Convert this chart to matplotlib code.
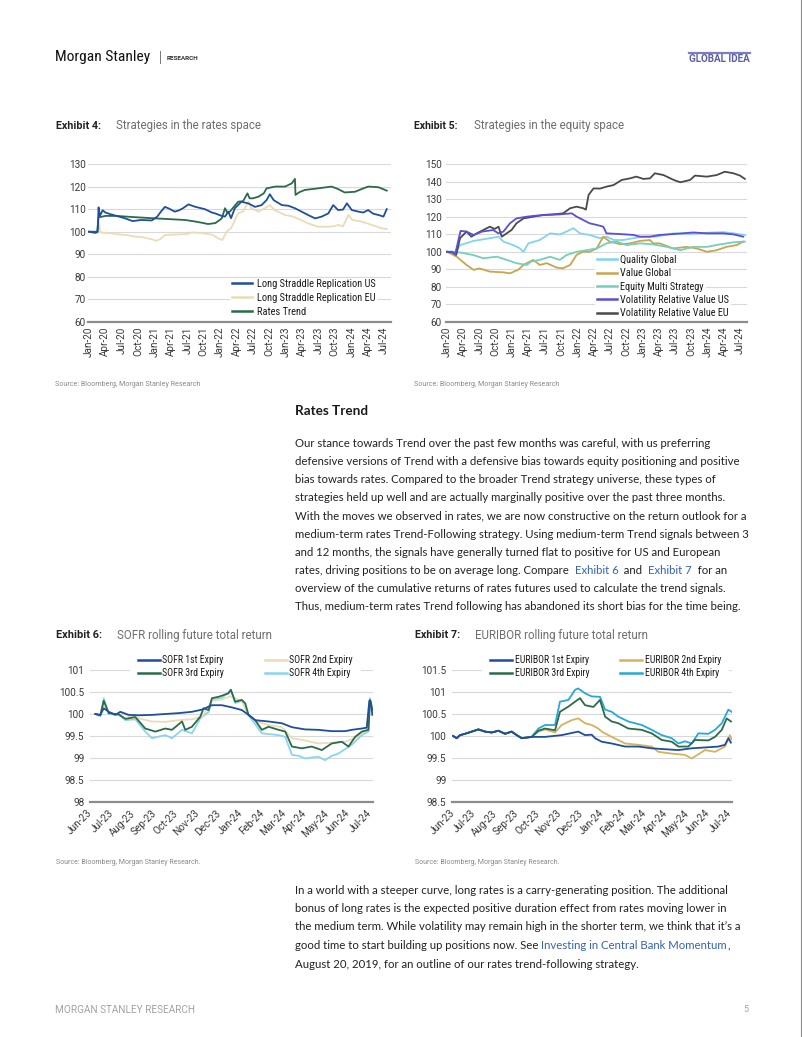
import matplotlib
matplotlib.use("Agg")
import matplotlib.pyplot as plt
from matplotlib import font_manager as fm
from matplotlib.lines import Line2D
from matplotlib.patches import Rectangle
from matplotlib.transforms import IdentityTransform

# ======================= DATA =======================
# Exhibit 4 / 5 : x = months since Jan-2020
q_labels = ['Jan-20', 'Apr-20', 'Jul-20', 'Oct-20', 'Jan-21', 'Apr-21', 'Jul-21', 'Oct-21',
            'Jan-22', 'Apr-22', 'Jul-22', 'Oct-22', 'Jan-23', 'Apr-23', 'Jul-23', 'Oct-23',
            'Jan-24', 'Apr-24', 'Jul-24']
q_pos = [0, 3, 6, 9, 12, 15, 18, 21, 24, 27, 30, 33, 36, 39, 42, 45, 48, 51, 54]

lsr_us_m = [0, 1.2, 1.6, 1.75, 2.0, 2.5, 3.0, 4.0, 5.5, 6.5, 8.0, 9.5, 11.5, 12.5, 13.2, 13.9, 14.6,
            15.7, 16.5, 17.2, 18.2, 19.5, 21.2, 22.5, 23.1, 24.3, 24.9, 25.5, 26.0, 26.7, 27.9, 29.2,
            30.4, 31.6, 32.5, 33.1, 33.8, 35.3, 36.5, 37.7, 38.9, 40.1, 41.4, 42.6, 43.8, 44.7, 45.6,
            46.5, 47.2, 48.1, 49.3, 50.2, 51.1, 52.0, 53.0, 53.9, 54.5]
lsr_us_v = [100, 99.5, 100, 110.8, 107, 109.5, 108.5, 107.7, 106.7, 106, 104.7, 105.2, 105, 106.7,
            109, 111, 110.3, 108.9, 109.5, 110.4, 112.1, 111, 110, 108.5, 108.1, 107, 106.7, 108.9,
            106, 110.4, 113.3, 112.5, 111, 111.8, 114, 116.6, 114, 111.8, 111.5, 110.4, 108.9, 107.4,
            105.9, 106.7, 108.1, 111.8, 109.6, 109.8, 112.6, 109.6, 108.9, 108.5, 109.6, 108, 107.4,
            106.7, 110]
lsr_eu_m = [0, 1.5, 1.8, 2.1, 2.5, 4.0, 5.5, 7.0, 8.5, 10.0, 11.5, 12.4, 13.2, 13.9, 15.0, 16.5,
            18.0, 18.8, 20.0, 21.0, 22.5, 23.7, 24.4, 25.2, 26.0, 27.3, 28.2, 29.2, 29.7, 31.0, 32.2,
            33.1, 34.0, 35.9, 37.4, 38.5, 40.1, 41.9, 43.8, 45.0, 45.6, 46.5, 47.5, 48.2, 50.0, 51.8,
            53.6, 54.5]
lsr_eu_v = [100, 99.5, 104, 100, 99.5, 99.3, 98.8, 98.5, 97.8, 97.5, 96.6, 96, 97, 98.5, 98.7, 98.8,
            99, 99.7, 99.5, 99.3, 98.7, 97, 96.3, 100, 101.5, 108.1, 109, 113.3, 110.4, 108.9, 110.4,
            111.8, 109.5, 107.4, 106.7, 105.5, 103.7, 102.2, 102.2, 102.5, 103, 102.4, 107.4, 105.2,
            104.4, 103, 101.5, 101.2]
rates_trend_m = [0, 1.5, 1.75, 2.1, 3.0, 5.0, 8.0, 11.5, 14.5, 17.6, 19.5, 20.6, 21.8, 23.1, 23.7,
                 24.3, 24.9, 25.3, 25.8, 26.3, 27.3, 28.2, 29.0, 29.4, 30.0, 31.0, 32.0, 32.5, 34.1,
                 35.9, 37.1, 37.7, 37.8, 38.5, 39.5, 41.9, 44.4, 45.5, 46.8, 48.7, 50.0, 51.1, 53.0, 54.5]
rates_trend_v = [100, 100, 106.5, 106.5, 107, 107, 106.5, 106, 105.6, 105.2, 104.5, 104, 103.4, 103.8,
                 104.8, 105.9, 110.4, 108.5, 108.9, 110.4, 113.3, 113.5, 117, 114.8, 114.8, 115.5, 117,
                 119.2, 120, 120, 121.4, 123.4, 116.3, 117.5, 118.5, 119.2, 120, 119, 117.4, 117.7,
                 119, 120, 119.7, 118.2]

vrv_eu_m = [0, 1.0, 1.7, 2.4, 3.0, 3.6, 4.5, 5.5, 6.7, 7.9, 8.8, 9.5, 10.1, 11.0, 11.9, 12.8, 14.1,
            15.9, 17.8, 19.6, 21.4, 22.7, 23.9, 25.1, 25.6, 26.1, 27.0, 28.2, 29.4, 30.7, 32.2, 33.7,
            34.9, 36.2, 37.4, 38.3, 39.9, 41.8, 43.0, 44.8, 45.7, 47.9, 49.7, 51.2, 52.8, 54.0, 54.9]
vrv_eu_v = [100, 99.6, 98.2, 107.7, 109.6, 111.5, 108.6, 110.5, 112.4, 114.3, 113, 114.3, 108.6,
            110.5, 112.4, 116.2, 119, 120, 121, 121.3, 121.9, 124.8, 125.7, 124.8, 124, 132.4, 136.1,
            136, 137.1, 138, 140.9, 141.8, 142.8, 141.5, 141.8, 144.7, 143.7, 140.9, 139.6, 140.9,
            143.4, 142.8, 143.7, 145.6, 144.7, 143.4, 141.5]
vrv_us_m = [0, 1.0, 1.5, 2.5, 3.6, 4.9, 6.5, 8.5, 9.5, 10.4, 11.6, 12.8, 14.7, 16.5, 18.4, 20.8, 23.0,
            23.9, 25.1, 26.3, 27.6, 28.8, 29.4, 31.9, 34.3, 35.6, 37.4, 39.2, 41.7, 45.4, 47.9, 50.9,
            52.8, 54.6]
vrv_us_v = [100, 100, 98.5, 111.9, 111.5, 109.6, 111.5, 112.4, 110.5, 111.5, 116.2, 119, 120, 120.6,
            121, 121.3, 121.9, 120, 118.1, 116.2, 115.3, 114.3, 110.5, 110.1, 109.6, 108.6, 108.6,
            109.6, 110.1, 111, 110.5, 110.5, 109.9, 108.6]
quality_m = [0, 1.7, 2.4, 4.9, 7.9, 9.5, 10.4, 12.2, 13.4, 14.1, 15.0, 17.1, 19.0, 20.8, 22.0, 23.3,
             24.5, 26.3, 28.2, 29.4, 30.7, 32.5, 34.3, 36.2, 38.6, 41.7, 44.2, 46.6, 48.5, 50.9, 52.8, 54.9]
quality_v = [100, 100, 103.8, 106.2, 107.7, 108.6, 105.8, 103.8, 102, 100, 104.8, 106.7, 110.5,
             109.9, 111.5, 113.4, 110.5, 109.6, 107.7, 108.6, 106.7, 106.7, 107.7, 108.6, 108.6,
             110.5, 110.2, 110.5, 110.9, 111.2, 110.5, 109.6]
value_m = [0, 1.8, 3.6, 4.9, 6.0, 7.9, 10.4, 11.6, 13.1, 14.1, 15.9, 17.1, 18.4, 20.2, 21.4, 22.7,
           23.9, 25.1, 26.3, 27.6, 28.8, 30.0, 31.9, 33.7, 35.6, 37.4, 38.0, 39.2, 41.7, 44.2, 46.0,
           47.9, 49.7, 51.5, 53.4, 54.6]
value_v = [100, 97.2, 92.5, 89.7, 90.5, 88.7, 88.3, 87.7, 89.7, 92.5, 95.4, 92.5, 93.5, 91, 90.6,
           92.5, 98.3, 100, 100, 101.9, 108.6, 105.8, 104.3, 104.8, 106.2, 106.7, 104.8, 104.8,
           101.9, 102.8, 101.9, 100, 100.9, 102.8, 103.8, 105.8]
eq_multi_m = [0, 2.4, 4.9, 6.7, 9.2, 11.0, 12.8, 14.7, 15.5, 17.1, 19.0, 20.8, 22.0, 23.9, 25.7,
              27.6, 29.4, 31.3, 33.1, 35.6, 38.0, 40.5, 43.0, 45.4, 47.9, 50.3, 52.8, 54.9]
eq_multi_v = [100, 99.6, 98.1, 96.3, 97.2, 95.4, 93.5, 92.5, 94.4, 95.4, 97.2, 95.4, 98.1, 100,
              100.9, 101.9, 104.8, 105.8, 103.8, 104.8, 104.2, 102.8, 100.9, 102.8, 102.8, 104.2,
              105.4, 105.8]

# Exhibit 6 / 7 : x = months since Jun-2023
m_labels = ['Jun-23', 'Jul-23', 'Aug-23', 'Sep-23', 'Oct-23', 'Nov-23', 'Dec-23', 'Jan-24',
            'Feb-24', 'Mar-24', 'Apr-24', 'May-24', 'Jun-24', 'Jul-24']

sofr1_m = [0.23, 0.46, 0.62, 0.85, 1.16, 1.39, 1.78, 2.24, 2.86, 3.48, 4.1, 4.72, 5.19, 5.65, 6.11,
           6.58, 7.04, 7.35, 7.66, 8.28, 8.9, 9.37, 9.98, 10.6, 11.22, 11.84, 12.15, 12.62, 12.85,
           12.97, 13.03, 13.11]
sofr1_v = [100, 99.98, 100.13, 100.05, 99.98, 100.05, 99.98, 99.97, 99.98, 100, 100.02, 100.05,
           100.1, 100.2, 100.2, 100.15, 100.09, 99.98, 99.86, 99.83, 99.79, 99.7, 99.65, 99.64,
           99.61, 99.61, 99.64, 99.67, 99.69, 100.3, 100.28, 99.98]
sofr2_m = [0.23, 0.46, 0.62, 0.85, 1.16, 1.39, 1.78, 2.24, 2.86, 3.48, 4.1, 4.72, 5.19, 5.4, 5.65,
           6.11, 6.5, 7.04, 7.35, 7.66, 8.28, 8.9, 9.37, 9.98, 10.6, 11.22, 11.84, 12.3, 12.62,
           12.85, 12.97, 13.03, 13.11]
sofr2_v = [100, 99.97, 100.25, 100.02, 99.97, 100.04, 99.95, 99.9, 99.83, 99.82, 99.86, 99.88,
           99.94, 100.1, 100.3, 100.33, 100.4, 100.3, 99.98, 99.84, 99.75, 99.7, 99.45, 99.4, 99.33,
           99.35, 99.37, 99.45, 99.56, 99.63, 100.3, 100.28, 100.15]
sofr3_m = [0.23, 0.46, 0.62, 0.85, 1.32, 1.63, 2.09, 2.55, 3.02, 3.48, 3.79, 4.26, 4.41, 4.72, 5.11,
           5.26, 5.5, 5.65, 5.96, 6.42, 6.53, 6.73, 7.04, 7.2, 7.35, 7.66, 7.97, 8.28, 8.75, 9.06,
           9.37, 9.83, 10.29, 10.76, 11.22, 11.69, 12.0, 12.31, 12.62, 12.93, 13.0, 13.11]
sofr3_v = [100, 99.97, 100.3, 100.02, 99.99, 99.89, 99.93, 99.67, 99.6, 99.67, 99.64, 99.83, 99.64,
           99.71, 99.94, 100.13, 100.09, 100.36, 100.39, 100.47, 100.55, 100.28, 100.32, 100.24,
           99.98, 99.86, 99.64, 99.71, 99.64, 99.6, 99.26, 99.22, 99.26, 99.18, 99.33, 99.37, 99.26,
           99.48, 99.6, 99.64, 100.32, 100.09]
sofr4_m = [0.23, 0.46, 0.62, 0.85, 1.32, 1.63, 2.09, 2.55, 2.86, 3.48, 3.79, 4.26, 4.72, 5.11, 5.5,
           5.65, 6.11, 6.53, 6.73, 7.04, 7.35, 7.97, 8.75, 9.06, 9.37, 9.68, 9.98, 10.6, 10.91,
           11.22, 11.53, 12.15, 12.62, 12.93, 13.0, 13.11]
sofr4_v = [100, 99.95, 100.36, 100.0, 99.98, 99.86, 99.88, 99.6, 99.45, 99.52, 99.45, 99.64, 99.56,
           99.9, 100.05, 100.32, 100.36, 100.55, 100.25, 100.3, 99.98, 99.56, 99.52, 99.48, 99.07,
           99.05, 98.99, 99.03, 98.95, 99.05, 99.1, 99.3, 99.52, 99.6, 100.36, 100.15]

eur_early_m = [0.0, 0.17, 0.33, 0.56, 0.88, 1.19, 1.5, 1.82, 2.13, 2.44, 2.75, 2.99, 3.22, 3.54, 3.69]
eur_early_v = [100.0, 99.95, 100.02, 100.05, 100.1, 100.15, 100.1, 100.08, 100.12, 100.05, 100.1,
               100.02, 99.95, 99.97, 99.98]
eur1_m = eur_early_m + [4.32, 5.1, 5.88, 6.2, 6.51, 6.67, 6.98, 7.45, 8.08, 8.7, 9.33, 9.95, 10.58,
                        11.2, 11.83, 12.46, 12.77, 12.93, 13.05]
eur1_v = eur_early_v + [99.98, 100.02, 100.1, 100.02, 100.03, 99.95, 99.87, 99.83, 99.76, 99.76,
                        99.72, 99.7, 99.68, 99.72, 99.74, 99.76, 99.8, 99.95, 99.85]
eur2_m = eur_early_m + [4.01, 4.32, 4.79, 5.1, 5.57, 5.88, 6.2, 6.51, 6.82, 6.98, 7.45, 8.08, 8.7,
                        9.33, 9.64, 10.27, 10.89, 11.21, 11.83, 12.3, 12.77, 13.0, 13.08]
eur2_v = eur_early_v + [100.1, 100.15, 100.08, 100.25, 100.36, 100.4, 100.29, 100.25, 100.17, 100.1,
                        99.98, 99.83, 99.8, 99.76, 99.64, 99.6, 99.57, 99.49, 99.68, 99.64, 99.76,
                        100.02, 99.92]
eur3_m = eur_early_m + [4.01, 4.32, 4.79, 5.02, 5.42, 5.73, 5.96, 6.2, 6.59, 6.9, 7.14, 7.45, 7.76,
                        8.23, 8.86, 9.33, 9.8, 10.27, 10.58, 11.05, 11.36, 11.99, 12.3, 12.62,
                        12.85, 13.05]
eur3_v = eur_early_v + [100.12, 100.17, 100.13, 100.55, 100.67, 100.78, 100.86, 100.7, 100.66,
                        100.82, 100.44, 100.33, 100.29, 100.17, 100.14, 100.06, 99.91, 99.87, 99.76,
                        99.76, 99.91, 99.9, 99.98, 100.14, 100.4, 100.33]
eur4_m = eur_early_m + [4.01, 4.32, 4.79, 5.02, 5.42, 5.73, 5.88, 6.2, 6.51, 6.9, 7.14, 7.45, 7.76,
                        8.23, 8.86, 9.33, 9.8, 10.27, 10.58, 10.89, 11.21, 11.52, 11.99, 12.3,
                        12.62, 12.93, 13.08]
eur4_v = eur_early_v + [100.17, 100.25, 100.25, 100.78, 100.82, 101.05, 101.08, 100.97, 100.9,
                        100.89, 100.6, 100.55, 100.44, 100.33, 100.25, 100.14, 100.02, 99.95, 99.83,
                        99.88, 99.83, 100.06, 100.05, 100.14, 100.29, 100.6, 100.55]

para1 = [
    [("Our stance towards Trend over the past few months was careful, with us preferring", 0)],
    [("defensive versions of Trend with a defensive bias towards equity positioning and positive", 0)],
    [("bias towards rates. Compared to the broader Trend strategy universe, these types of", 0)],
    [("strategies held up well and are actually marginally positive over the past three months.", 0)],
    [("With the moves we observed in rates, we are now constructive on the return outlook for a", 0)],
    [("medium-term rates Trend-Following strategy. Using medium-term Trend signals between 3", 0)],
    [("and 12 months, the signals have generally turned flat to positive for US and European", 0)],
    [("rates, driving positions to be on average long. Compare  ", 0), ("Exhibit 6", 1),
     ("  and  ", 0), ("Exhibit 7", 1), ("  for an", 0)],
    [("overview of the cumulative returns of rates futures used to calculate the trend signals.", 0)],
    [("Thus, medium-term rates Trend following has abandoned its short bias for the time being.", 0)],
]
para2 = [
    [("In a world with a steeper curve, long rates is a carry-generating position. The additional", 0)],
    [("bonus of long rates is the expected positive duration effect from rates moving lower in", 0)],
    [("the medium term. While volatility may remain high in the shorter term, we think that it\u2019s a", 0)],
    [("good time to start building up positions now. See ", 0),
     ("Investing in Central Bank Momentum", 1), (",", 0)],
    [("August 20, 2019, for an outline of our rates trend-following strategy.", 0)],
]

# ======================= FIGURE =======================
W, H = 802, 1037
fig = plt.figure(figsize=(W / 100, H / 100), dpi=100)
fig.patch.set_facecolor('white')
R = fig.canvas.get_renderer()

_avail = {f.name for f in fm.fontManager.ttflist}
_narrow = None
for _nm in ['Roboto Condensed', 'Liberation Sans Narrow', 'Arial Narrow', 'Open Sans Condensed',
            'Noto Sans Condensed', 'DejaVu Sans Condensed']:
    if _nm in _avail:
        _narrow = _nm
        break
CH = ['Roboto', 'DejaVu Sans']
if _narrow:
    NARROW = [_narrow, 'Roboto', 'DejaVu Sans']
    WSCALE = 1.0
else:
    NARROW = ['Roboto', 'DejaVu Sans']
    WSCALE = 1.08
BODY = ['Lato', 'DejaVu Sans']


def fx(x):
    return x / W


def fy(y):
    return 1 - y / H


def measure(s, size, **kw):
    t = fig.text(0, 0, s, fontsize=size, **kw)
    bb = t.get_window_extent(R)
    t.remove()
    return bb.width, bb.height


def fit(s, target, **kw):
    return 10 * target / measure(s, 10, **kw)[0]


def put(x, y, s, width, **kw):
    size = fit(s, width, **kw)
    fig.text(fx(x), fy(y), s, fontsize=size, ha='left', va='center', **kw)
    return size


def adv(s, size, **kw):
    return measure(s + '|', size, **kw)[0] - measure('|', size, **kw)[0]


# ---------------- header / footer ----------------
put(55, 57, "Morgan Stanley", 95, family=NARROW, color='#111111')
fig.add_artist(Line2D([fx(159.5)] * 2, [fy(51), fy(63)], color='#777777', lw=0.7))
put(167, 58, "RESEARCH", 32, family=CH, weight='bold', color='#333333')
put(689, 59, "GLOBAL IDEA", 61, family=CH, weight='bold', color='#5b5fa6')
fig.add_artist(Line2D([fx(689), fx(750)], [fy(52.5)] * 2, color='#7b7ec6', lw=1.6))
fig.add_artist(Line2D([fx(800.5)] * 2, [0, 1], color='#8a8a8a', lw=0.8))
put(55, 1010, "MORGAN STANLEY RESEARCH", 138, family=CH, color='#a3a3a3')
fig.text(fx(743), fy(1010), "5", fontsize=6.5, family=CH, color='#a3a3a3', ha='left', va='center')


# ---------------- exhibit titles & sources ----------------
def title(x, y, ex, w1, desc, x2, w2):
    put(x, y, ex, w1, family=CH, weight='bold', color='#222222')
    put(x2, y, desc, w2, family=CH, color='#6e6e6e')


title(56, 126, "Exhibit 4:", 45, "Strategies in the rates space", 116, 146)
title(414, 126, "Exhibit 5:", 44, "Strategies in the equity space", 474, 151)
title(56, 635, "Exhibit 6:", 46, "SOFR rolling future total return", 117, 155)
title(415, 635, "Exhibit 7:", 45, "EURIBOR rolling future total return", 475, 173)
put(55, 384, "Source: Bloomberg, Morgan Stanley Research", 144, family=CH, color='#8a8a8a')
put(414, 384, "Source: Bloomberg, Morgan Stanley Research", 144, family=CH, color='#8a8a8a')
put(56, 863, "Source: Bloomberg, Morgan Stanley Research.", 144, family=CH, color='#8a8a8a')
put(415, 863, "Source: Bloomberg, Morgan Stanley Research.", 145, family=CH, color='#8a8a8a')

# ---------------- body text ----------------
put(295, 411, "Rates Trend", 73, family=BODY, weight='bold', color='#1a1a1a')
body_size = fit(para1[0][0][0], 416, family=BODY)
LINK = '#3563b0'
TXT = '#222222'


def rich_line(x, y, segs):
    cx = x
    for s, is_link in segs:
        fig.text(fx(cx), fy(y), s, fontsize=body_size, family=BODY, color=LINK if is_link else TXT,
                 ha='left', va='center')
        cx += adv(s, body_size, family=BODY)


for i, segs in enumerate(para1):
    rich_line(295, 443 + i * 18.22, segs)
for i, segs in enumerate(para2):
    rich_line(295, 890 + i * 18.5, segs)


# ---------------- axes helpers ----------------
def make_axes(l, t, r, b):
    return fig.add_axes([fx(l), fy(b), (r - l) / W, (b - t) / H])


def style(ax, ylab_pad):
    for s in ['top', 'right', 'left']:
        ax.spines[s].set_visible(False)
    ax.spines['bottom'].set_color('#8c8c8c')
    ax.spines['bottom'].set_linewidth(1.6)
    ax.spines['bottom'].set_zorder(3)
    ax.grid(axis='y', color='#d9d9d9', lw=0.8)
    ax.grid(axis='x', visible=False)
    ax.set_axisbelow(True)
    ax.tick_params(axis='both', length=0, labelsize=7.2, labelcolor='#3a3a3a')
    ax.tick_params(axis='y', pad=ylab_pad)
    for lab in ax.get_yticklabels() + ax.get_xticklabels():
        lab.set_family(CH)


legends_white = []


def add_legend(ax, handles, labels, fs, hx, y1, dy, hl_px, htp_px, ncol=1, col2_hx=None,
               frame=False, pad_px=4):
    fpx = fs * 100 / 72
    _, th = measure(labels[0], fs, family=NARROW)
    labelspacing = max(dy - th, 0) / fpx
    cs = 2.0
    if ncol == 2:
        nr = (len(labels) + 1) // 2
        w1 = max(measure(l, fs, family=NARROW)[0] for l in labels[:nr])
        cs = (col2_hx - hx - hl_px - htp_px - w1) / fpx
    leg = ax.legend(handles, labels, loc='upper left',
                    bbox_to_anchor=(fx(hx - pad_px), fy(y1 - th / 2 - pad_px)),
                    bbox_transform=fig.transFigure, ncol=ncol,
                    prop={'family': NARROW, 'size': fs}, handlelength=hl_px / fpx,
                    handletextpad=htp_px / fpx, labelspacing=labelspacing,
                    borderpad=pad_px / fpx, borderaxespad=0, columnspacing=cs,
                    frameon=frame, fancybox=False, framealpha=1)
    if frame:
        leg.get_frame().set_facecolor('white')
        leg.get_frame().set_edgecolor('none')
    else:
        legends_white.append((ax, leg, hl_px + htp_px))
    for t in leg.get_texts():
        t.set_color('#1a1a1a')
    for h in leg.get_lines():
        h.set_linewidth(1.8)
    return leg


LW = 1.3

# ---------------- Exhibit 4 ----------------
ax4 = make_axes(88, 164, 391, 322)
l1, = ax4.plot(lsr_us_m, lsr_us_v, color='#1f4f9c', lw=LW, zorder=3)
l2, = ax4.plot(lsr_eu_m, lsr_eu_v, color='#ecdcb6', lw=LW, zorder=2)
l3, = ax4.plot(rates_trend_m, rates_trend_v, color='#2b6b48', lw=LW, zorder=2.5)
ax4.set_ylim(60, 130)
ax4.set_yticks(range(60, 131, 10))
ax4.set_xlim(-0.18, 55.28)
ax4.set_xticks(q_pos)
ax4.set_xticklabels(q_labels, rotation=90)
style(ax4, 1.5)
ax4.tick_params(axis='x', pad=3)
lf4 = fit("Long Straddle Replication US", 118 * WSCALE, family=NARROW)
add_legend(ax4, [l1, l2, l3], ["Long Straddle Replication US", "Long Straddle Replication EU",
                               "Rates Trend"], lf4, 232, 284, 14, 20, 5)

# ---------------- Exhibit 5 ----------------
ax5 = make_axes(446, 164, 747, 322)
q, = ax5.plot(quality_m, quality_v, color='#82d4ea', lw=LW, zorder=2)
v, = ax5.plot(value_m, value_v, color='#c9a54e', lw=LW, zorder=2.1)
e, = ax5.plot(eq_multi_m, eq_multi_v, color='#72d0bd', lw=LW, zorder=2.2)
u, = ax5.plot(vrv_us_m, vrv_us_v, color='#5a4fd6', lw=LW, zorder=2.4)
g, = ax5.plot(vrv_eu_m, vrv_eu_v, color='#4a4a4a', lw=LW, zorder=2.3)
ax5.set_ylim(60, 150)
ax5.set_yticks(range(60, 151, 10))
ax5.set_xlim(-0.18, 55.29)
ax5.set_xticks(q_pos)
ax5.set_xticklabels(q_labels, rotation=90)
style(ax5, 3)
ax5.tick_params(axis='x', pad=3)
lf5 = fit("Volatility Relative Value EU", 108 * WSCALE, family=NARROW)
add_legend(ax5, [q, v, e, u, g], ["Quality Global", "Value Global", "Equity Multi Strategy",
                                  "Volatility Relative Value US", "Volatility Relative Value EU"],
           lf5, 597, 260, 13.3, 20, 3)

# ---------------- Exhibit 6 ----------------
ax6 = make_axes(90, 670, 373, 802)
s1, = ax6.plot(sofr1_m, sofr1_v, color='#1f4f9c', lw=LW, zorder=2.6)
s2, = ax6.plot(sofr2_m, sofr2_v, color='#ecdcb6', lw=LW, zorder=2.2)
s3, = ax6.plot(sofr3_m, sofr3_v, color='#2b6b48', lw=LW, zorder=2.4)
s4, = ax6.plot(sofr4_m, sofr4_v, color='#8ad4f0', lw=LW, zorder=2.0)
ax6.set_ylim(98, 101)
ax6.set_yticks([98, 98.5, 99, 99.5, 100, 100.5, 101])
ax6.set_yticklabels(['98', '98.5', '99', '99.5', '100', '100.5', '101'])
ax6.set_xlim(-0.02, 13.14)
ax6.set_xticks(range(14))
ax6.set_xticklabels(m_labels)
style(ax6, 4)
ax6.tick_params(axis='x', pad=7)
for lab in ax6.get_xticklabels():
    lab.set_rotation(45)
    lab.set_ha('right')
    lab.set_va('center')
    lab.set_rotation_mode('anchor')
lf6 = fit("SOFR 1st Expiry", 61 * WSCALE, family=NARROW)
add_legend(ax6, [s1, s3, s2, s4], ["SOFR 1st Expiry", "SOFR 3rd Expiry", "SOFR 2nd Expiry",
                                   "SOFR 4th Expiry"], lf6, 138, 660, 13, 22, 2, ncol=2,
           col2_hx=265, frame=True, pad_px=8)

# ---------------- Exhibit 7 ----------------
ax7 = make_axes(452, 670, 732, 802)
e1, = ax7.plot(eur1_m, eur1_v, color='#1f4f9c', lw=LW, zorder=2.6)
e2, = ax7.plot(eur2_m, eur2_v, color='#d6b25c', lw=LW, zorder=2.2)
e3, = ax7.plot(eur3_m, eur3_v, color='#2b6b48', lw=LW, zorder=2.4)
e4, = ax7.plot(eur4_m, eur4_v, color='#28a7de', lw=LW, zorder=2.0)
ax7.set_ylim(98.5, 101.5)
ax7.set_yticks([98.5, 99, 99.5, 100, 100.5, 101, 101.5])
ax7.set_yticklabels(['98.5', '99', '99.5', '100', '100.5', '101', '101.5'])
ax7.set_xlim(-0.05, 13.1)
ax7.set_xticks(range(14))
ax7.set_xticklabels(m_labels)
style(ax7, 4)
ax7.tick_params(axis='x', pad=7)
for lab in ax7.get_xticklabels():
    lab.set_rotation(45)
    lab.set_ha('right')
    lab.set_va('center')
    lab.set_rotation_mode('anchor')
lf7 = fit("EURIBOR 1st Expiry", 74 * WSCALE, family=NARROW)
add_legend(ax7, [e1, e3, e2, e4], ["EURIBOR 1st Expiry", "EURIBOR 3rd Expiry", "EURIBOR 2nd Expiry",
                                   "EURIBOR 4th Expiry"], lf7, 490, 660, 13, 22, 3, ncol=2,
           col2_hx=620, frame=True, pad_px=8)

# white background behind each legend entry (Ex 4 / 5)
fig.canvas.draw()
for ax, leg, off in legends_white:
    for t in leg.get_texts():
        bb = t.get_window_extent(R)
        ax.add_patch(Rectangle((bb.x0 - off - 2, bb.y0), bb.width + off + 4, bb.height,
                               transform=IdentityTransform(), facecolor='white',
                               edgecolor='none', zorder=1, clip_on=False))

fig.savefig('out.png', dpi=100, facecolor='white')
